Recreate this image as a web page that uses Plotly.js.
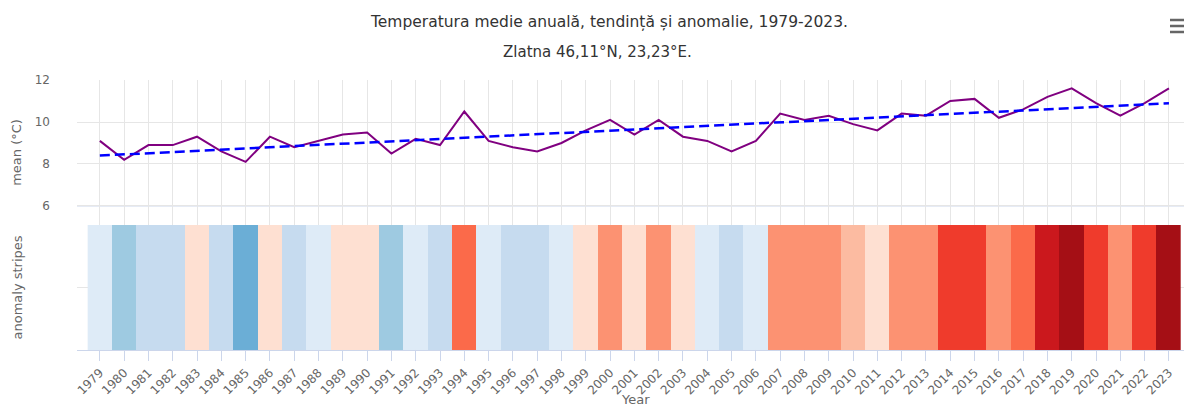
<!DOCTYPE html>
<html>
<head>
<meta charset="utf-8">
<script src="https://cdn.plot.ly/plotly-3.0.1.min.js"></script>
<style>html,body{margin:0;padding:0;background:#fff;}#chart{width:1184px;height:407px;}</style>
</head>
<body>
<div id="chart"></div>
<script>
// ---- data ----
const years = [1979,1980,1981,1982,1983,1984,1985,1986,1987,1988,1989,1990,1991,1992,1993,1994,1995,1996,1997,1998,1999,2000,2001,2002,2003,2004,2005,2006,2007,2008,2009,2010,2011,2012,2013,2014,2015,2016,2017,2018,2019,2020,2021,2022,2023];
const meanTemp = [9.1,8.2,8.9,8.9,9.3,8.6,8.1,9.3,8.8,9.1,9.4,9.5,8.5,9.2,8.9,10.5,9.1,8.8,8.6,9.0,9.6,10.1,9.4,10.1,9.3,9.1,8.6,9.1,10.4,10.1,10.3,9.9,9.6,10.4,10.3,11.0,11.1,10.2,10.6,11.2,11.6,10.9,10.3,10.9,11.6];
const trendYears = [1979, 2023];
const trendTemp = [8.40, 10.89];
const anomaly = [-0.18,-1.08,-0.38,-0.38,0.02,-0.68,-1.18,0.02,-0.48,-0.18,0.12,0.22,-0.78,-0.08,-0.38,1.22,-0.18,-0.48,-0.68,-0.28,0.32,0.82,0.12,0.82,0.02,-0.18,-0.68,-0.18,1.12,0.82,1.02,0.62,0.32,1.12,1.02,1.72,1.82,0.92,1.32,1.92,2.32,1.62,1.02,1.62,2.32];
const stripeBounds = [-1.6,-1.1,-0.7,-0.3,0,0.45,0.7,1.17,1.5,1.87,2.1,2.6];
const stripeColors = ['#6baed6','#9ecae1','#c6dbef','#deebf7','#fee0d2','#fcbba1','#fc9272','#fb6a4a','#ef3b2c','#cb181d','#a50f15'];
const titleText = 'Temperatura medie anuală, tendință și anomalie, 1979-2023.';
const subtitleText = 'Zlatna 46,11°N, 23,23°E.';
const xTitleText = 'Year';

// stepped colorscale
const zmin = stripeBounds[0], zmax = stripeBounds[stripeBounds.length-1];
const cs = [];
stripeColors.forEach((c,i)=>{
  cs.push([(stripeBounds[i]-zmin)/(zmax-zmin), c]);
  cs.push([(stripeBounds[i+1]-zmin)/(zmax-zmin), c]);
});

const FONT = 'DejaVu Sans, sans-serif';
const GRAY = '#666666';
const L = 77, W = 1107, B = 57, H = 270;
const px = x => (x - L) / W;           // container px -> paper x
const py = y => (407 - B - y) / H;     // container px -> paper y

const traces = [
  {type:'heatmap', x: years, y:[0], z:[anomaly], xaxis:'x', yaxis:'y2',
   colorscale: cs, zmin: zmin, zmax: zmax, showscale:false, hoverinfo:'x+z'},
  {type:'scatter', mode:'lines', x: years, y: meanTemp, xaxis:'x', yaxis:'y',
   line:{color:'#800080', width:2}, name:'mean', showlegend:false},
  {type:'scatter', mode:'lines', x: trendYears, y: trendTemp, xaxis:'x', yaxis:'y',
   line:{color:'#0000ff', width:2.5, dash:'10px,5px'}, name:'trend', showlegend:false}
];

const menuLine = (y) => ({type:'line', xref:'paper', yref:'paper', x0:px(1170), x1:px(1184), y0:py(y), y1:py(y), line:{color:GRAY, width:2.5}});

const layout = {
  width:1184, height:407,
  margin:{l:L, r:0, t:80, b:B},
  paper_bgcolor:'#ffffff', plot_bgcolor:'#ffffff',
  font:{family:FONT, color:GRAY, size:12},
  showlegend:false,
  xaxis:{
    anchor:'y2', range:[1978.06, 2023.62], tickvals: years, ticktext: years.map(String),
    tickangle:-45, tickfont:{size:12, color:GRAY},
    showgrid:true, gridcolor:'#e6e6e6', gridwidth:1,
    showline:true, linecolor:'#ccd6eb', linewidth:1,
    ticks:'outside', ticklen:10, tickcolor:'#ccd6eb', zeroline:false
  },
  yaxis:{
    domain:[0.463, 1], range:[5.095, 12], tickvals:[6,8,10,12], ticks:'',
    tickfont:{size:12, color:GRAY}, gridcolor:'#e6e6e6', zeroline:false,
    ticklabelstandoff: 26,
    title:{text:'mean (°C)', font:{size:13, color:GRAY}, standoff:10}
  },
  yaxis2:{
    domain:[0, 0.463], range:[-0.5, 0.5], tickvals:[-0.5,0,0.5], ticks:'',
    showticklabels:false, gridcolor:'#e6e6e6', zeroline:false,
    title:{text:'anomaly stripes', font:{size:13, color:GRAY}, standoff:50}
  },
  shapes:[
    {type:'line', xref:'paper', yref:'y', x0:0, x1:1, y0:6, y1:6, line:{color:'#ccd6eb', width:1}, layer:'below'},
    menuLine(20), menuLine(26), menuLine(32)
  ],
  annotations:[
    {text:titleText, xref:'paper', yref:'paper', x:px(609), y:py(22), yanchor:'middle', xanchor:'center', showarrow:false, font:{size:15.5, color:'#333333', family:FONT}},
    {text:subtitleText, xref:'paper', yref:'paper', x:px(597), y:py(52), yanchor:'middle', xanchor:'center', showarrow:false, font:{size:15, color:'#333333', family:FONT}},
    {text:xTitleText, xref:'paper', yref:'paper', x:px(635), y:py(399), yanchor:'middle', xanchor:'center', showarrow:false, font:{size:13, color:GRAY, family:FONT}}
  ]
};

Plotly.newPlot('chart', traces, layout, {displayModeBar:false, responsive:false});
</script>
</body>
</html>
